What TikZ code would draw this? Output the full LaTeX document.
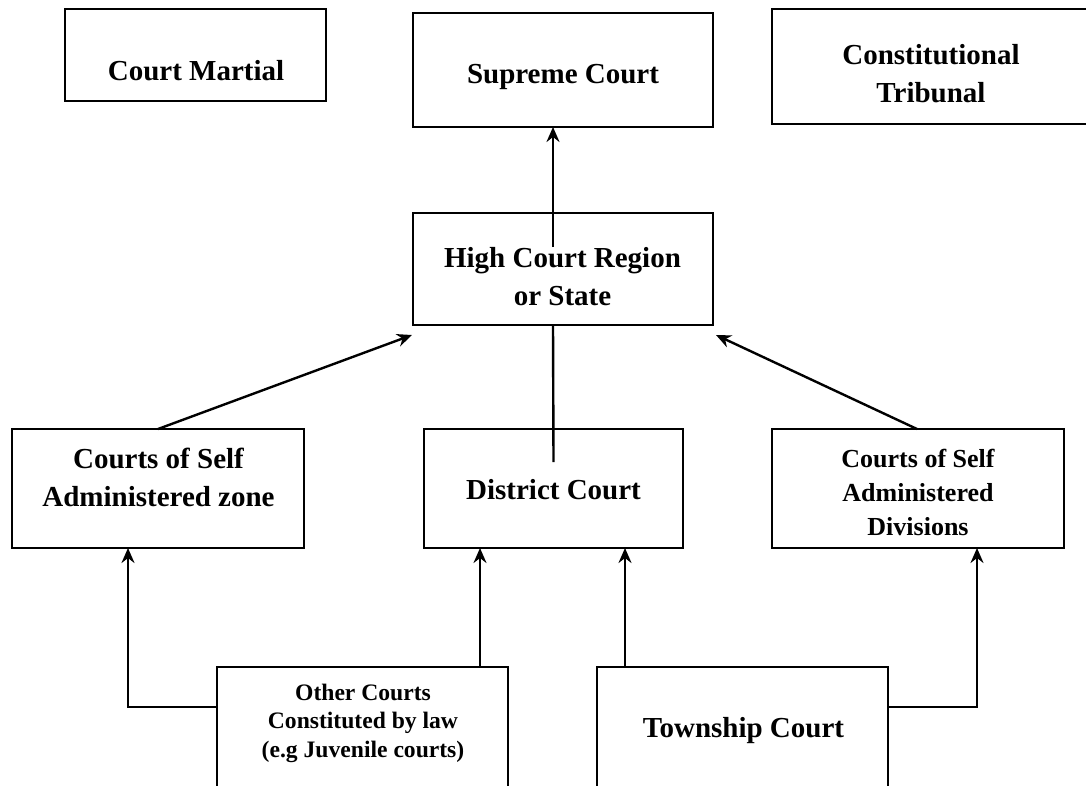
\documentclass[tikz,border=0pt]{standalone}
\usepackage{fontspec}
\setmainfont{Liberation Serif}
\usetikzlibrary{arrows.meta,calc}
\begin{document}
\begin{tikzpicture}[x=1pt,y=-1pt,
  box/.style={draw, line width=2.2pt, inner sep=0pt, outer sep=0pt},
  txt/.style={font=\fontsize{29}{38}\selectfont\bfseries, align=center, anchor=base, inner sep=0pt},
  txtm/.style={font=\fontsize{26}{34}\selectfont\bfseries, align=center, anchor=base, inner sep=0pt},
  txts/.style={font=\fontsize{23.6}{28.5}\selectfont\bfseries, align=center, anchor=base, inner sep=0pt},
  arr/.style={line width=2.4pt, -{Stealth[length=15pt,width=13pt,inset=5pt]}},
  ln/.style={line width=2.4pt}]
\useasboundingbox (0,0) rectangle (1086,785);
\clip (0,0) rectangle (1086,785);
% boxes
\node[box, minimum width=261pt, minimum height=92pt]  (cm)   at (195.5,55)  {};
\node[box, minimum width=300pt, minimum height=114pt] (sc)   at (563,70)    {};
\node[box, minimum width=318pt, minimum height=115pt] (ct)   at (931,66.5)  {};
\node[box, minimum width=300pt, minimum height=112pt] (hc)   at (563,269)   {};
\node[box, minimum width=292pt, minimum height=119pt] (zone) at (158,488.5) {};
\node[box, minimum width=259pt, minimum height=119pt] (dc)   at (553.5,488.5) {};
\node[box, minimum width=292pt, minimum height=119pt] (div)  at (918,488.5) {};
\node[box, minimum width=291pt, minimum height=160pt] (oc)   at (362.5,747) {};
\node[box, minimum width=291pt, minimum height=160pt] (tc)   at (742.5,747) {};
% texts (base anchor = baseline of the last line)
\node[txt]  (tcm)   at (196,80)    {Court Martial};
\node[txt]  (tsc)   at (563,83)    {Supreme Court};
\node[txt]  (tct)   at (931,102)   {Constitutional\\Tribunal};
\node[txt]  (thc)   at (562.5,305) {High Court Region\\or State};
\node[txt]  (tzone) at (158.5,506) {Courts of Self\\Administered zone};
\node[txt]  (tdc)   at (553.5,499) {District Court};
\node[txtm] (tdiv)  at (918,535)   {Courts of Self\\Administered\\Divisions};
\node[txts] (toc)   at (363,757)   {Other Courts\\Constituted by law\\(e.g Juvenile courts)};
\node[txt]  (ttc)   at (743.5,737) {Township Court};
% connectors
\draw[arr] ([xshift=-10pt,yshift=22pt]hc.center) -- ([xshift=-10pt]sc.south);
\draw[ln]  ([xshift=-10pt]hc.south) -- ([yshift=-33pt]dc.north);
\draw[arr] (zone.north) -- ([xshift=-1pt,yshift=-10pt]hc.south west);
\draw[arr] ([xshift=-1pt]div.north) -- ([xshift=3pt,yshift=-10pt]hc.south east);
\draw[arr] ([yshift=-40pt]oc.north west) -| ([xshift=-30pt]zone.south);
\draw[arr] ([xshift=117.5pt]oc.north) -- ([xshift=117.5pt]oc.north |- dc.south);
\draw[arr] ([xshift=-117.5pt]tc.north) -- ([xshift=-117.5pt]tc.north |- dc.south);
\draw[arr] ([yshift=-40pt]tc.north east) -| ([xshift=59pt]div.south);
\end{tikzpicture}
\end{document}
